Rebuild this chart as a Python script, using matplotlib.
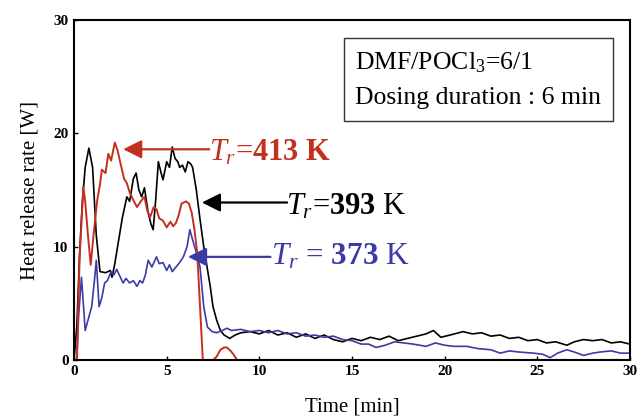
import matplotlib
matplotlib.use("Agg")
import matplotlib.pyplot as plt
import numpy as np

# ---------------- data ----------------
t_393 = [0, 0.15, 0.3, 0.45, 0.6, 0.8, 1.0, 1.2, 1.4, 1.7, 1.95, 2.05, 2.2, 2.4, 2.6, 2.85, 3.0, 3.2,
         3.35, 3.5, 3.65, 3.8, 4.0, 4.15, 4.27, 4.4, 4.55, 4.7, 4.8, 5.0, 5.15, 5.3, 5.45, 5.6, 5.7,
         5.85, 6.0, 6.15, 6.3, 6.4, 6.6, 6.8, 7.0, 7.2, 7.35, 7.5, 7.7, 7.9, 8.1, 8.4,
         8.7, 9.0, 9.5, 10.0, 10.5, 11.0, 11.5, 12.0, 12.5, 13.0, 13.5, 14.0, 14.5, 15.0, 15.5, 16.0,
         16.5, 17.0, 17.5, 18.0, 18.5, 19.0, 19.4, 19.8, 20.3, 21.0, 21.5, 22.0, 22.5, 23.0, 23.5,
         24.0, 24.5, 25.0, 25.5, 26.0, 26.6, 27.0, 27.5, 28.0, 28.5, 29.0, 29.5, 30.0]
q_393 = [0, 3, 9.4, 14, 17, 18.7, 17, 11, 7.8, 7.7, 7.9, 7.3, 8.5, 10.5, 12.5, 14.4, 14, 16,
         16.5, 15, 14.4, 15.2, 13, 12, 11.5, 14, 17.5, 16.5, 15.9, 17.5, 17, 18.8, 17.8, 17.5, 17,
         17.2, 16.6, 17.5, 17.3, 17, 15, 12.4, 10, 8, 6.5, 4.7, 3.5, 2.6, 2.2, 1.9,
         2.2, 2.4, 2.5, 2.3, 2.6, 2.2, 2.4, 2.0, 2.3, 1.9, 2.2, 1.8, 1.6, 1.9, 1.7, 2.0,
         1.8, 2.1, 1.7, 1.9, 2.1, 2.3, 2.6, 2.0, 2.2, 2.5, 2.3, 2.4, 2.1, 2.2, 1.9,
         2.0, 1.7, 1.8, 1.5, 1.6, 1.3, 1.6, 1.8, 1.7, 1.8, 1.5, 1.6, 1.4]

t_373 = [0, 0.15, 0.25, 0.4, 0.5, 0.6, 0.75, 0.95, 1.1, 1.2, 1.35, 1.5, 1.65, 1.8, 2.0, 2.15, 2.3,
         2.5, 2.65, 2.8, 3.0, 3.2, 3.4, 3.55, 3.7, 3.85, 4.0, 4.2, 4.45, 4.6, 4.8, 5.0, 5.15, 5.3,
         5.55, 5.7, 5.9, 6.1, 6.25, 6.4, 6.6, 6.8, 7.0, 7.2, 7.45, 7.7, 8.0, 8.25,
         8.5, 9.0, 9.5, 10.0, 10.5, 11.0, 11.5, 12.0, 12.5, 13.0, 13.5, 14.0, 14.5, 15.0, 15.5,
         15.9, 16.3, 16.8, 17.3, 17.8, 18.3, 19.0, 19.5, 20.0, 20.5, 21.2, 21.8, 22.5, 23.0, 23.5,
         24.0, 24.8, 25.3, 25.7, 26.1, 26.6, 27.0, 27.5, 28.0, 28.4, 29.0, 29.5, 30.0]
q_373 = [0, 0, 4, 7.3, 5, 2.6, 3.5, 4.7, 7, 8.8, 4.7, 5.5, 6.8, 7, 7.8, 7.5, 8,
         7.3, 6.8, 7.2, 6.8, 7, 6.5, 7, 6.8, 7.5, 8.8, 8.2, 9.1, 8.5, 8.6, 7.9, 8.4, 7.8,
         8.3, 8.6, 9.1, 10, 11.5, 10.6, 9.5, 8.2, 4.7, 2.9, 2.5, 2.4, 2.6, 2.8,
         2.6, 2.7, 2.5, 2.6, 2.4, 2.6, 2.3, 2.4, 2.1, 2.2, 2.0, 2.1, 1.8, 1.7, 1.4,
         1.4, 1.1, 1.3, 1.6, 1.5, 1.4, 1.2, 1.5, 1.3, 1.2, 1.2, 1.0, 0.9, 0.6, 0.8,
         0.7, 0.6, 0.5, 0.2, 0.6, 0.9, 0.7, 0.4, 0.6, 0.7, 0.8, 0.6, 0.6]

t_413 = [0, 0.15, 0.3, 0.5, 0.6, 0.75, 0.9, 1.05, 1.25, 1.4, 1.5, 1.7, 1.85, 2.0, 2.2, 2.35, 2.5,
         2.7, 2.85, 3.0, 3.2, 3.4, 3.6, 3.8, 3.95, 4.1, 4.3, 4.45, 4.6, 4.8, 5.0, 5.2, 5.35, 5.5,
         5.65, 5.8, 6.05, 6.2, 6.35, 6.5, 6.65, 6.8, 6.95, 7.5, 7.7, 7.9, 8.1, 8.25, 8.45, 8.6,
         8.8, 30.0]
q_413 = [0, 0, 9, 15.3, 14, 11, 8.4, 11, 14.1, 15.5, 16.8, 16.5, 18.2, 17.6, 19.2, 18.5, 17.4,
         16, 15.6, 14.8, 14.1, 13.5, 14, 14.4, 13.2, 12.6, 13.5, 13.3, 12.5, 12.3, 11.7, 12.2, 11.8, 12.1,
         12.8, 13.8, 14.0, 13.8, 13.0, 11.5, 9.4, 4.7, 0, 0, 0.3, 0.9, 1.1, 1.1, 0.8, 0.5,
         0, 0]

x_ticks = [0, 5, 10, 15, 20, 25, 30]
y_ticks = [0, 10, 20, 30]

# ---------------- style ----------------
plt.rcParams['font.family'] = ['Liberation Serif', 'DejaVu Serif']
plt.rcParams['mathtext.fontset'] = 'custom'
plt.rcParams['mathtext.rm'] = 'Liberation Serif'
plt.rcParams['mathtext.it'] = 'Liberation Serif:italic'
plt.rcParams['mathtext.bf'] = 'Liberation Serif:bold'

RED = '#c4301f'
BLUE = '#3b3ba6'

fig = plt.figure(figsize=(6.44, 4.20), dpi=100)
ax = fig.add_axes([0.115, 0.143, 0.863, 0.809])

ax.plot(t_393, q_393, color='black', lw=1.2)
ax.plot(t_373, q_373, color=BLUE, lw=1.2)
ax.plot(t_413, q_413, color=RED, lw=1.4)

ax.set_xlim(0, 30)
ax.set_ylim(0, 30)
ax.set_xticks(x_ticks)
ax.set_yticks(y_ticks)
ax.tick_params(direction='in', length=3, width=1, pad=4)
for lab in ax.get_xticklabels() + ax.get_yticklabels():
    lab.set_fontweight('bold')
    lab.set_fontsize(11)
for s in ax.spines.values():
    s.set_linewidth(1.5)

ax.set_xlabel('Time [min]', fontsize=15, labelpad=14)
ax.set_ylabel('Heat release rate [W]', fontsize=15, labelpad=10)

# info box
ax.text(0.506, 0.825, 'DMF/POCl$_3$=6/1\nDosing duration : 6 min', transform=ax.transAxes,
        fontsize=18.5, ha='left', va='center', linespacing=1.75,
        bbox=dict(boxstyle='square,pad=0.45', fc='white', ec='#333333', lw=1.0))

# annotations
arrow_kw = dict(arrowstyle='-|>', mutation_scale=28, lw=1.6, shrinkA=0, shrinkB=0)
ax.annotate('', xy=(2.65, 18.6), xytext=(7.3, 18.6),
            arrowprops=dict(color=RED, **arrow_kw))
ax.text(7.3, 17.65, r'$T_r$=$\mathbf{413\ K}$', color=RED, fontsize=22, ha='left', va='baseline')

ax.annotate('', xy=(6.9, 13.9), xytext=(11.5, 13.9),
            arrowprops=dict(color='black', **arrow_kw))
ax.text(11.45, 12.8, r'$T_r$=$\mathbf{393}$ K', color='black', fontsize=22, ha='left', va='baseline')

ax.annotate('', xy=(6.15, 9.1), xytext=(10.6, 9.1),
            arrowprops=dict(color=BLUE, **arrow_kw))
ax.text(10.65, 8.4, r'$T_r$ = $\mathbf{373}$ K', color=BLUE, fontsize=22.5, ha='left', va='baseline')

fig.savefig('out.png', dpi=100)
